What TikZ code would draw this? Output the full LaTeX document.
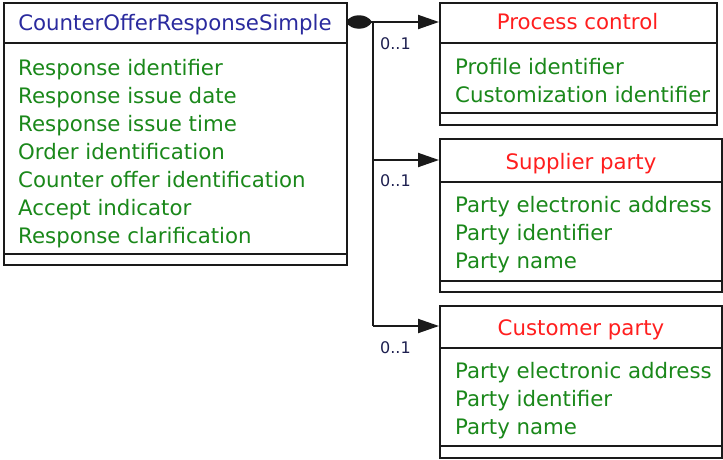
\documentclass[tikz,border=0pt]{standalone}
\usepackage{fontspec}
\setmainfont{DejaVu Sans}
\usetikzlibrary{arrows.meta,calc}
\definecolor{boxline}{HTML}{1A1A1A}
\definecolor{titleblue}{HTML}{2A2A9E}
\definecolor{titlered}{HTML}{FF1E1E}
\definecolor{attrgreen}{HTML}{1A881A}
\definecolor{multcol}{HTML}{1E2050}
\begin{document}
\begin{tikzpicture}[x=1pt,y=-1pt,
  classbox/.style={draw=boxline,line width=2pt,rectangle,inner sep=0pt,anchor=north west},
  divider/.style={draw=boxline,line width=2pt},
  ctitle/.style={font=\fontsize{21.3}{25}\selectfont,inner sep=0pt,anchor=base},
  maintitle/.style={ctitle,text=titleblue},
  subtitle/.style={ctitle,text=titlered},
  attr/.style={font=\fontsize{21.3}{25}\selectfont,text=attrgreen,inner sep=0pt,anchor=base west},
  mult/.style={font=\fontsize{16}{18}\selectfont,text=multcol,inner sep=0pt,anchor=base west},
  assoc/.style={draw=boxline,line width=2pt},
  tip/.style={-{Triangle[length=21pt,width=14pt]}}
]
\useasboundingbox (0,0) rectangle (723,459);
\fill[white] (0,0) rectangle (723,459);

% main class
\node[classbox,minimum width=343pt,minimum height=262.5pt] (main) at (3,1.5) {};
\draw[divider] (3,43) -- (346,43);
\draw[divider] (3,254) -- (346,254);
\node[maintitle] (mainT) at (175,30) {CounterOfferResponseSimple};
\foreach \t [count=\i from 0] in {Response identifier,Response issue date,Response issue time,Order identification,Counter offer identification,Accept indicator,Response clarification}
  \node[attr] (mainA\i) at (18,75+28*\i) {\t};

% process control
\node[classbox,minimum width=277pt,minimum height=122pt] (pc) at (439,2) {};
\draw[divider] (439,43) -- (716,43);
\draw[divider] (439,113) -- (716,113);
\node[subtitle] (pcT) at (577.5,29) {Process control};
\node[attr] (pcA0) at (455,74) {Profile identifier};
\node[attr] (pcA1) at (455,102) {Customization identifier};

% supplier party
\node[classbox,minimum width=282pt,minimum height=153pt] (sp) at (439,138) {};
\draw[divider] (439,182) -- (721,182);
\draw[divider] (439,281) -- (721,281);
\node[subtitle] (spT) at (581,169) {Supplier party};
\foreach \t [count=\i from 0] in {Party electronic address,Party identifier,Party name}
  \node[attr] (spA\i) at (455,212+28*\i) {\t};

% customer party
\node[classbox,minimum width=282pt,minimum height=152pt] (cp) at (439,305) {};
\draw[divider] (439,348) -- (721,348);
\draw[divider] (439,446) -- (721,446);
\node[subtitle] (cpT) at (581,335) {Customer party};
\foreach \t [count=\i from 0] in {Party electronic address,Party identifier,Party name}
  \node[attr] (cpA\i) at (455,378+28*\i) {\t};

% connectors
\coordinate (j) at (373,22);
\coordinate (s) at (346,22);
\coordinate (jsp) at (373,160);
\coordinate (jcp) at (373,326);
\draw[assoc] (s) -- (j);
\fill[boxline] (346,22) .. controls (351,13) and (367,13) .. (372,22) .. controls (367,31) and (351,31) .. (346,22) -- cycle;
\draw[assoc,tip] (j) -- (j -| pc.west);
\draw[assoc] (j) -- (jcp);
\draw[assoc,tip] (jsp) -- (jsp -| sp.west);
\draw[assoc,tip] (jcp) -- (jcp -| cp.west);

\node[mult] (m1) at (380,49) {0..1};
\node[mult] (m2) at (380,186) {0..1};
\node[mult] (m3) at (380,353) {0..1};
\end{tikzpicture}
\end{document}
